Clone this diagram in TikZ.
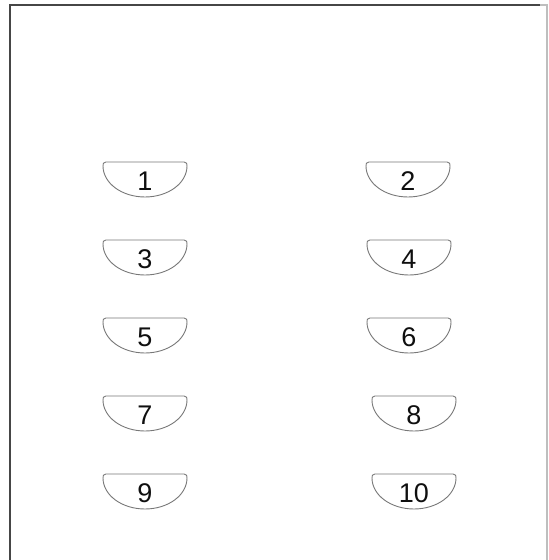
\documentclass[tikz,border=0pt]{standalone}
\usepackage{fontspec}
\setmainfont{Liberation Sans}
\usepackage{tikz}
\usetikzlibrary{calc}
\definecolor{frameGray}{RGB}{70,70,70}
\definecolor{edgeGray}{RGB}{190,190,190}
\definecolor{keyGray}{RGB}{120,120,120}
\definecolor{digitInk}{RGB}{15,15,15}

\begin{document}
\begin{tikzpicture}[x=1pt,y=1pt,
    keylabel/.style={text=digitInk, font=\fontsize{27}{27}\selectfont, inner sep=0pt},
    keyline/.style={draw=keyGray, line width=0.9pt, line join=round}]
    \useasboundingbox (0,0) rectangle (549,560);
    % Outer frame (bottom edge runs off the page)
    \draw[frameGray, line width=1.5pt] (10,-5) -- (10,555) -- (540,555);
    \draw[edgeGray, line width=1.2pt] (540,555) -- (547,555) -- (547,-5);
    % Keys: label / centre x / top edge
    \foreach \k/\xc/\yt in {1/145/398, 2/408/398, 3/145/320, 4/409/320, 5/145/242,
                            6/409/242, 7/145/164, 8/414/164, 9/145/86, 10/414/86} {
      \node[keylabel] (key\k) at (\xc,\yt-19.5) {\k};
      \draw[keyline] ($(key\k)+(-39,19.5)$) -- ($(key\k)+(39,19.5)$)
        .. controls ($(key\k)+(42,18.5)$) .. ($(key\k)+(42,15.5)$)
        arc[start angle=0, end angle=-180, x radius=42, y radius=31]
        .. controls ($(key\k)+(-42,18.5)$) .. cycle;
    }
\end{tikzpicture}
\end{document}
